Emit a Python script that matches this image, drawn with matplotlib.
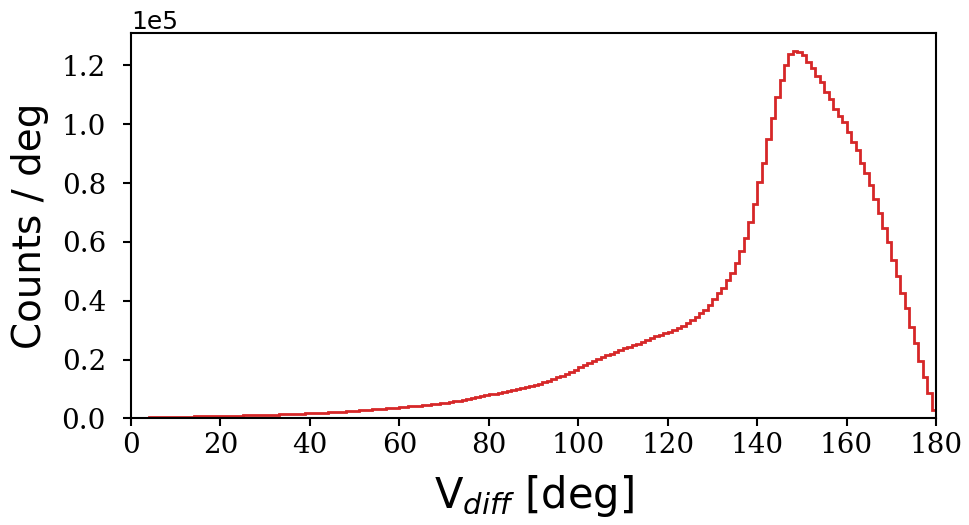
import numpy as np
import matplotlib
matplotlib.use("Agg")
import matplotlib.pyplot as plt

# counts per 1-degree bin, 0..180 deg
bin_edges = np.arange(0, 181, 1)
counts_0_49 = [
    150, 200, 250, 300, 340, 380, 420, 460, 500, 530,
    560, 590, 620, 650, 680, 710, 740, 770, 800, 830,
    860, 890, 920, 950, 990, 1030, 1070, 1110, 1150, 1190,
    1230, 1280, 1330, 1380, 1430, 1480, 1540, 1600, 1660, 1720,
    1790, 1860, 1930, 2000, 2080, 2160, 2240, 2330, 2420, 2520,
]
counts_50_99 = [
    2650, 2750, 2860, 2970, 3080, 3200, 3320, 3440, 3560, 3680,
    3800, 3940, 4080, 4220, 4370, 4520, 4680, 4840, 5000, 5170,
    5340, 5580, 5830, 6090, 6360, 6640, 6920, 7210, 7510, 7820,
    8140, 8440, 8740, 9050, 9370, 9690, 10020, 10350, 10680, 11010,
    11350, 11850, 12350, 12850, 13400, 13950, 14550, 15200, 15860, 16550,
]
counts_100_139 = [
    17500, 18200, 18900, 19600, 20200, 20800, 21400, 22000, 22600, 23200,
    23800, 24350, 24900, 25450, 26000, 26600, 27300, 28000, 28500, 28900,
    29400, 30000, 30700, 31500, 32400, 33400, 34500, 35700, 37000, 38700,
    40600, 42500, 44240, 47060, 49550, 52960, 56930, 61250, 66910, 72820,
]
counts_140_179 = [
    80520, 86980, 94940, 102090, 109230, 115120, 120230, 123970, 124760, 124550,
    123630, 121010, 119100, 116250, 114210, 110800, 108550, 105150, 102870, 100930,
    97530, 94130, 91300, 86980, 83370, 79390, 74530, 69760, 64660, 60100,
    53870, 48430, 42740, 37430, 31170, 25520, 19600, 14160, 8510, 2830,
]
counts = np.array(counts_0_49 + counts_50_99 + counts_100_139 + counts_140_179)

x_ticks = [0, 20, 40, 60, 80, 100, 120, 140, 160, 180]
y_ticks = [0, 20000, 40000, 60000, 80000, 100000, 120000]

fig = plt.figure(figsize=(9.7, 5.25), dpi=100)
ax = fig.add_axes([0.135, 0.203, 0.83, 0.734])

ax.stairs(counts, bin_edges, baseline=None, color="#d62728", linewidth=2.0)

ax.set_xlim(0, 180)
ax.set_ylim(0, 131000)
ax.set_xticks(x_ticks)
ax.set_yticks(y_ticks)
ax.ticklabel_format(style="sci", axis="y", scilimits=(0, 0))
ax.yaxis.get_offset_text().set_fontsize(18)

ax.tick_params(axis="both", which="major", labelsize=20, length=6, width=1.5)
ax.tick_params(axis="y", pad=12)
for lbl in ax.get_xticklabels() + ax.get_yticklabels():
    lbl.set_fontfamily("DejaVu Serif")
for sp in ax.spines.values():
    sp.set_linewidth(1.5)

ax.set_xlabel(r"V$_{diff}$ [deg]", fontsize=30, labelpad=10)
ax.set_ylabel("Counts / deg", fontsize=28, labelpad=9)

fig.savefig("out.png", dpi=100)
